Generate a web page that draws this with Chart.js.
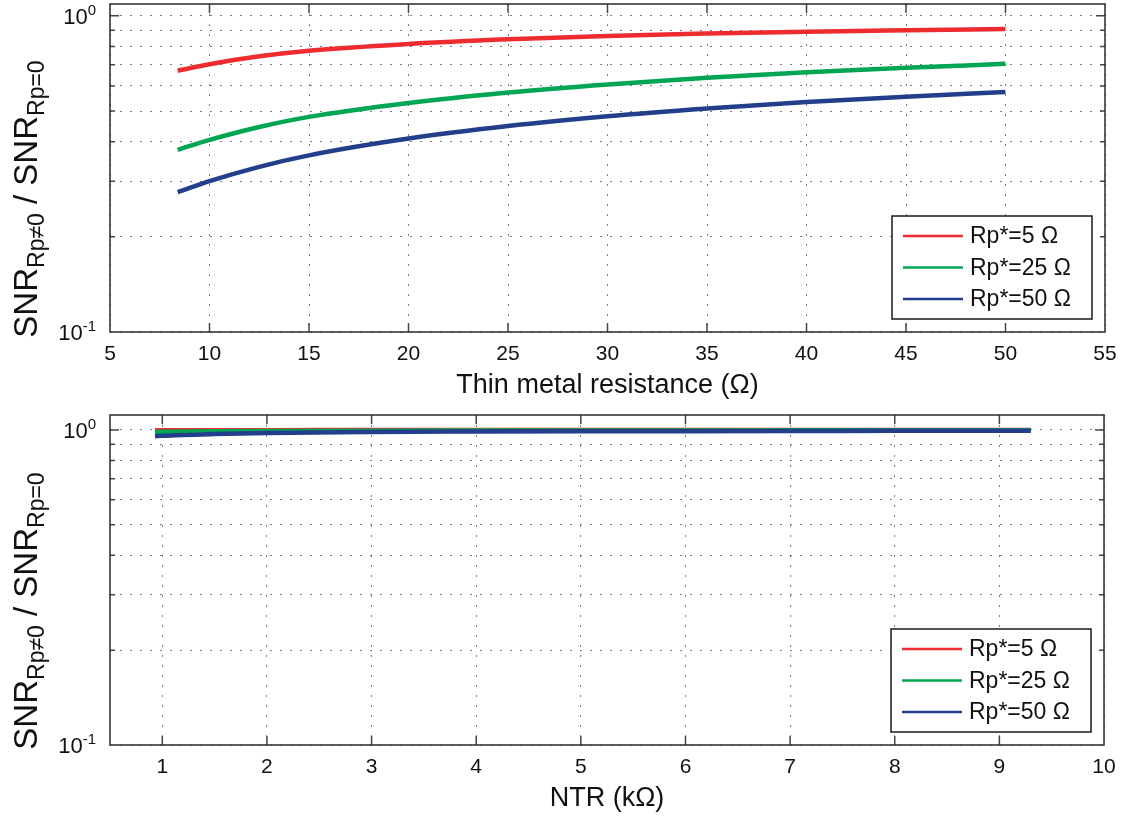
<!DOCTYPE html>
<html>
<head>
<meta charset="utf-8">
<script src="https://cdn.jsdelivr.net/npm/chart.js@4.4.1/dist/chart.umd.min.js"></script>
<style>
    body { margin: 0; background: #fff; }
    .box { position: absolute; left: 0; width: 1121px; }
    #metalBox { top: 0; height: 410px; }
    #ntrBox { top: 410px; height: 409px; }
</style>
</head>
<body>
<div class="box" id="metalBox"><canvas id="metalChart"></canvas></div>
<div class="box" id="ntrBox"><canvas id="ntrChart"></canvas></div>
<script>
const SERIES_LABELS = ['Rp*=5 \u03A9', 'Rp*=25 \u03A9', 'Rp*=50 \u03A9'];
const SERIES_COLORS = ['#ee2b2e', '#00a651', '#233f8c'];

// top plot: thin metal resistance (ohm)
const METAL_X = [8.4, 10, 12.5, 15, 20, 25, 30, 35, 40, 45, 50];
const METAL_RP5 = [0.671, 0.703, 0.745, 0.776, 0.815, 0.843, 0.864, 0.879, 0.891, 0.900, 0.908];
const METAL_RP25 = [0.377, 0.405, 0.445, 0.479, 0.530, 0.572, 0.607, 0.637, 0.663, 0.685, 0.705];
const METAL_RP50 = [0.277, 0.300, 0.333, 0.362, 0.409, 0.448, 0.481, 0.509, 0.534, 0.555, 0.574];
const METAL_TICKS = [5, 10, 15, 20, 25, 30, 35, 40, 45, 50, 55];

// bottom plot: NTR (kohm)
const NTR_X = [0.93, 1, 1.5, 2, 3, 4, 5, 6, 7, 8, 9, 9.3];
const NTR_RP5 = [0.997, 0.997, 0.998, 0.998, 0.999, 0.999, 0.999, 0.999, 0.999, 0.999, 0.999, 0.999];
const NTR_RP25 = [0.985, 0.986, 0.990, 0.992, 0.994, 0.995, 0.996, 0.996, 0.997, 0.997, 0.997, 0.997];
const NTR_RP50 = [0.955, 0.958, 0.970, 0.978, 0.985, 0.988, 0.990, 0.991, 0.992, 0.993, 0.994, 0.994];
const NTR_TICKS = [1, 2, 3, 4, 5, 6, 7, 8, 9, 10];

// log y axis
const Y_GRID = [0.1, 0.2, 0.3, 0.4, 0.5, 0.6, 0.7, 0.8, 0.9, 1];
const Y_DECADES = [0.1, 1];
const Y_TITLE_PARTS = [['SNR', 0], ['Rp\u22600', 1], [' / ', 0], ['SNR', 0], ['Rp=0', 1]];

const FONT = "'Liberation Sans', Arial, Helvetica, sans-serif";

function toPoints(xs, ys) {
    return xs.map((x, i) => ({x: x, y: ys[i]}));
}

function makeDatasets(xs, series) {
    let datasets = [];
    for (let i = 0; i < series.length; i++) {
        datasets.push({
            label: SERIES_LABELS[i],
            data: toPoints(xs, series[i]),
            borderColor: SERIES_COLORS[i],
            backgroundColor: SERIES_COLORS[i],
            borderWidth: 4.5,
            pointRadius: 0,
            fill: false,
            order: series.length - i,   // last series on top, like matlab
            cubicInterpolationMode: 'monotone',
        });
    }
    return datasets;
}

// box, inward ticks, y tick labels, y title and boxed legend, matlab style
const axesDecor = {
    id: 'axesDecor',
    afterDraw(chart, args, opts) {
        const ctx = chart.ctx;
        const a = chart.chartArea;
        const xs = chart.scales.x;
        const ys = chart.scales.y;

        ctx.save();
        // tick marks
        ctx.strokeStyle = '#444';
        ctx.lineWidth = 1.5;
        ctx.beginPath();
        xs.ticks.forEach(t => {
            let px = xs.getPixelForValue(t.value);
            if (px <= a.left + 1 || px >= a.right - 1) return;
            ctx.moveTo(px, a.bottom); ctx.lineTo(px, a.bottom - 9);
            ctx.moveTo(px, a.top); ctx.lineTo(px, a.top + 9);
        });
        Y_GRID.forEach(v => {
            let py = ys.getPixelForValue(v);
            if (py >= a.bottom - 1) return;
            let len = Y_DECADES.includes(v) ? 9 : 5;
            ctx.moveTo(a.left, py); ctx.lineTo(a.left + len, py);
            ctx.moveTo(a.right, py); ctx.lineTo(a.right - len, py);
        });
        ctx.stroke();

        // frame
        ctx.strokeStyle = '#2a2a2a';
        ctx.lineWidth = 1.5;
        ctx.strokeRect(a.left, a.top, a.right - a.left, a.bottom - a.top);

        // y tick labels 10^n
        ctx.fillStyle = '#111';
        ctx.textBaseline = 'alphabetic';
        Y_DECADES.forEach(v => {
            let py = ys.getPixelForValue(v);
            let exp = String(Math.round(Math.log10(v)));
            ctx.font = '15px ' + FONT;
            let ew = ctx.measureText(exp).width;
            ctx.textAlign = 'right';
            ctx.fillText(exp, a.left - 14, py - 1);
            ctx.font = '22px ' + FONT;
            ctx.fillText('10', a.left - 14 - ew, py + 8);
        });

        // y title with subscripts
        const mainFont = '33px ' + FONT;
        const subFont = '23px ' + FONT;
        let total = 0;
        Y_TITLE_PARTS.forEach(p => {
            ctx.font = p[1] ? subFont : mainFont;
            total += ctx.measureText(p[0]).width;
        });
        ctx.translate(37, (a.top + a.bottom) / 2 + opts.titleShift);
        ctx.rotate(-Math.PI / 2);
        ctx.textAlign = 'left';
        let pos = -total / 2;
        Y_TITLE_PARTS.forEach(p => {
            ctx.font = p[1] ? subFont : mainFont;
            ctx.fillText(p[0], pos, p[1] ? 7 : 0);
            pos += ctx.measureText(p[0]).width;
        });
        ctx.restore();

        // legend box
        ctx.save();
        let bx = a.right - 13 - 200;
        let by = a.bottom - 13 - 103;
        ctx.fillStyle = '#fff';
        ctx.fillRect(bx, by, 200, 103);
        ctx.strokeStyle = '#1a1a1a';
        ctx.lineWidth = 1.5;
        ctx.strokeRect(bx, by, 200, 103);
        ctx.font = '23px ' + FONT;
        ctx.textBaseline = 'middle';
        ctx.textAlign = 'left';
        chart.data.datasets.forEach((d, i) => {
            let ly = by + 20 + i * 31.5;
            ctx.strokeStyle = d.borderColor;
            ctx.lineWidth = 2.5;
            ctx.beginPath();
            ctx.moveTo(bx + 11, ly);
            ctx.lineTo(bx + 71, ly);
            ctx.stroke();
            ctx.fillStyle = '#111';
            ctx.fillText(d.label, bx + 78, ly + 1);
        });
        ctx.restore();
    }
};

function genericConfig(datasets, xTicks, xMin, xMax, yMax, title, plotTop, plotRight, axisHeight) {
    return {
        type: 'line',
        data: { datasets: datasets },
        plugins: [axesDecor],
        options: {
            responsive: true,
            maintainAspectRatio: false,
            animation: false,
            layout: { padding: { top: plotTop, right: 1121 - plotRight, left: 0, bottom: 0 } },
            plugins: {
                legend: { display: false },
                tooltip: { enabled: false },
                axesDecor: { titleShift: 31 },
            },
            scales: {
                x: {
                    type: 'linear',
                    min: xMin,
                    max: xMax,
                    afterBuildTicks: (s) => { s.ticks = xTicks.map(v => ({value: v})); },
                    afterFit: (s) => {
                        s.height = axisHeight;
                        s.paddingLeft = 0;
                        s.paddingRight = 0;
                    },
                    ticks: {
                        font: { family: FONT, size: 21 },
                        color: '#111',
                        padding: 10,
                        maxRotation: 0,
                        autoSkip: false,
                    },
                    grid: { color: 'rgba(0,0,0,0.5)', lineWidth: 1, drawTicks: false },
                    border: { display: false, dash: [2, 8] },
                    title: {
                        display: true,
                        text: title,
                        font: { family: FONT, size: 27 },
                        color: '#111',
                        padding: { top: 0, bottom: axisHeight - 70 },
                    },
                },
                y: {
                    type: 'logarithmic',
                    min: 0.1,
                    max: yMax,
                    afterBuildTicks: (s) => { s.ticks = Y_GRID.map(v => ({value: v})); },
                    afterFit: (s) => { s.width = 110; },
                    ticks: { display: false },
                    grid: { color: 'rgba(0,0,0,0.5)', lineWidth: 1, drawTicks: false },
                    border: { display: false, dash: [2, 8] },
                },
            },
        },
    };
}

function main() {
    let metalData = makeDatasets(METAL_X, [METAL_RP5, METAL_RP25, METAL_RP50]);
    let ntrData = makeDatasets(NTR_X, [NTR_RP5, NTR_RP25, NTR_RP50]);

    let m_config = genericConfig(metalData, METAL_TICKS, 5, 55, 1.09, 'Thin metal resistance (\u03A9)', 4, 1105, 78);
    let n_config = genericConfig(ntrData, NTR_TICKS, 0.5, 10, 1.115, 'NTR (k\u03A9)', 5, 1104, 74);

    new Chart(document.getElementById('metalChart').getContext('2d'), m_config);
    new Chart(document.getElementById('ntrChart').getContext('2d'), n_config);
}

main();
</script>
</body>
</html>
